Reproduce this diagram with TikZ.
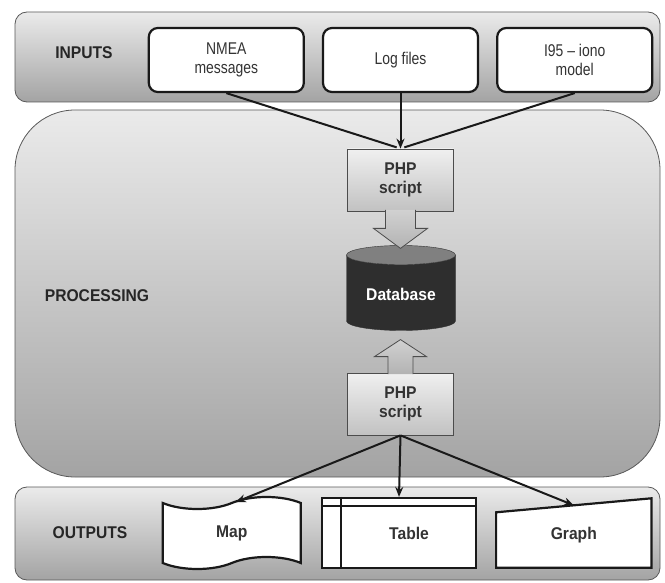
\documentclass[tikz,border=0pt]{standalone}
\usepackage{fontspec}
\setmainfont{Liberation Sans}[FakeStretch=0.82, BoldFeatures={FakeStretch=0.92}]
\usetikzlibrary{arrows.meta, positioning, shapes.geometric, shapes.symbols}
\tikzset{
    band/.style = {
      draw=black!65!white, thick, minimum width=645pt,
      top color=black!8!white, bottom color=black!36!white,
    },
    band label/.style = {
      font=\fontsize{17}{19}\selectfont\bfseries, text=black!85!white,
    },
    source/.style = {
      draw=black!90!white, line width=2.2pt, fill=white, rounded corners=9pt,
      minimum width=155pt, minimum height=64pt, align=center,
      font=\fontsize{17}{19}\selectfont, text=black!80!white,
    },
    script/.style = {
      draw=black!70!white, thick, top color=black!6!white, bottom color=black!24!white,
      minimum width=106pt, minimum height=62pt, align=center,
      font=\fontsize{17}{19}\selectfont\bfseries, text=black!80!white,
    },
    block arrow/.style = {
      draw=black!70!white, thick, top color=black!18!white, bottom color=black!30!white,
    },
    store/.style = {
      cylinder, shape border rotate=90, aspect=0.25, draw=black!80!white,
      cylinder uses custom fill, cylinder body fill=black!82!white,
      cylinder end fill=black!50!white, minimum width=109pt, minimum height=85pt,
      font=\fontsize{17}{19}\selectfont\bfseries, text=white,
    },
    result/.style = {
      draw=black!90!white, line width=2.2pt, fill=white,
      font=\fontsize{17}{19}\selectfont\bfseries, text=black!80!white,
    },
    feed/.style = {line width=2pt, black!90!white},
    link/.style = {feed, arrows={-Stealth[length=10pt, width=8pt]}},
}

\begin{document}
\begin{tikzpicture}[x=1pt, y=-1pt]
  \useasboundingbox (0,0) rectangle (665,583);

  %% Draw the three bands and their labels
  \node [band, rounded corners=12pt, minimum height=90pt] (inputs) at (337.5,57) {};
  \node [band, rounded corners=60pt, minimum height=367pt] (processing) at (337.5,293.5) {};
  \node [band, rounded corners=12pt, minimum height=93pt] (outputs) at (337.5,533.5) {};
  \node [band label] (inputs label) at (84,53) {INPUTS};
  \node [band label] (processing label) at (97,296) {PROCESSING};
  \node [band label] (outputs label) at (90,533) {OUTPUTS};

  %% Draw the sources
  \node [source] (log) at (400.5,60) {Log files};
  \node [source, left=17pt of log] (nmea) {NMEA\\messages};
  \node [source, right=17pt of log] (iono) {I95 -- iono\\model};

  %% Draw the scripts and the database
  \node [script] (php in) at (400.5,180) {PHP\\script};
  \node [store] (db) at (401,294.5) {Database};
  \node [script] (php out) at (400.5,404) {PHP\\script};

  %% Connect the sources to the first script
  \draw [feed, shorten >=4pt] (nmea.south) -- (php in.north);
  \draw [feed, shorten >=4pt] (iono.south) -- (php in.north);
  \draw [link] (log.south) -- (php in.north);

  %% Block arrows into and out of the database
  \draw [block arrow] ([xshift=-15pt, yshift=1.5pt]php in.south) -- ++(0,18.5)
    -- ++(-12,0) -- ++(27,20) -- ++(27,-20) -- ++(-12,0) -- ++(0,-18.5);
  \draw [block arrow] ([xshift=-12.5pt, yshift=-1.5pt]php out.north) -- ++(0,-17.5)
    -- ++(-13.5,0) -- ++(26,-17) -- ++(26,17) -- ++(-13.5,0) -- ++(0,17.5);

  %% Draw the outputs
  \node [result, minimum width=154pt, minimum height=70pt] (table) at (399,533)
        {\hspace*{20pt}Table};
  \draw [result] ([yshift=-9pt]table.north west) -- ([yshift=-9pt]table.north east);
  \draw [result] ([xshift=20pt]table.north west) -- ([xshift=20pt]table.south west);
  \node [result, tape, tape bend height=12pt, minimum width=138pt, minimum height=72pt,
         left=19pt of table] (map) {Map};
  \node [minimum width=155pt, minimum height=69pt, right=19pt of table] (graph) {};
  \filldraw [result] (graph.south west) -- ([yshift=-14pt]graph.north west)
    -- (graph.north east) -- (graph.south east) -- cycle;
  \node [result, draw=none, fill=none] (graph text) at ([yshift=-2.5pt]graph.center) {Graph};

  %% Connect the second script to the outputs
  \draw [link] (php out.south) -- ([xshift=4pt]map.north);
  \draw [link] (php out.south) -- (table.north);
  \draw [link] (php out.south) -- ([yshift=-7pt]graph.north);
\end{tikzpicture}
\end{document}
